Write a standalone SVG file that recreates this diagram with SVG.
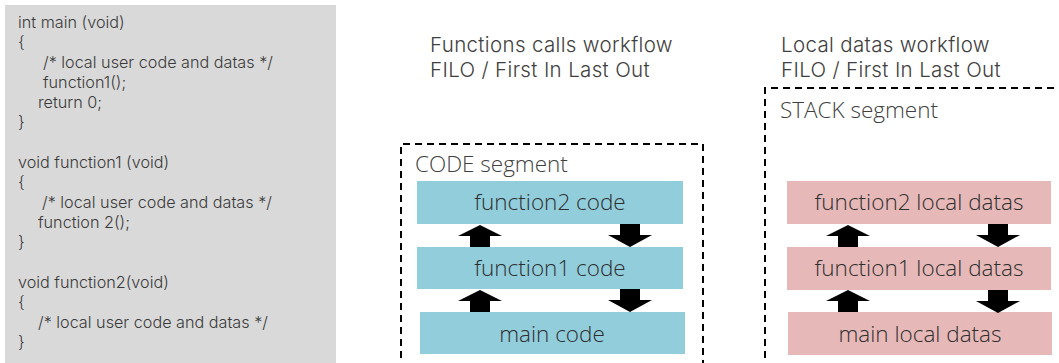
<svg xmlns="http://www.w3.org/2000/svg" width="1059" height="363" viewBox="0 0 1059 363">
<style>
.code{font-family:Inter,"Liberation Sans",sans-serif;font-size:16.2px;fill:#3a3a3a;font-weight:300}
.head{font-family:Inter,"Liberation Sans",sans-serif;font-size:20.5px;fill:#404040;font-weight:300;letter-spacing:0.35px}
.lbl{font-family:"Open Sans","Noto Sans",sans-serif;font-size:22.5px;fill:#2e2e2e;font-weight:300;text-anchor:middle}
.seg{font-family:"Open Sans","Noto Sans",sans-serif;font-size:22.5px;fill:#404040;font-weight:300}
.blue{fill:#92cddc}
.pink{fill:#e6b9b8}
.dash{fill:none;stroke:#000;stroke-width:2;stroke-dasharray:7 5}
.arr{fill:#000}
</style>
<defs>
<path id="up" d="M0,0 L22,11 L10,11 L10,22 L-10,22 L-10,11 L-22,11 Z"/>
<path id="down" d="M-10,0 L10,0 L10,11 L22,11 L0,23 L-22,11 L-10,11 Z"/>
</defs>
<g id="source-code">
<rect x="5" y="5" width="331" height="360" fill="#d9d9d9"/>
<text class="code" x="18" y="28">int main (void)</text>
<text class="code" x="18" y="48">{</text>
<text class="code" x="43" y="68">/* local user code and datas */</text>
<text class="code" x="43" y="88">function1();</text>
<text class="code" x="38" y="108">return 0;</text>
<text class="code" x="18" y="128">}</text>
<text class="code" x="18" y="168">void function1 (void)</text>
<text class="code" x="18" y="188">{</text>
<text class="code" x="42" y="208">/* local user code and datas */</text>
<text class="code" x="38" y="228">function 2();</text>
<text class="code" x="18" y="248">}</text>
<text class="code" x="18" y="288">void function2(void)</text>
<text class="code" x="18" y="308">{</text>
<text class="code" x="38" y="328">/* local user code and datas */</text>
<text class="code" x="18" y="348">}</text>
</g>
<g id="titles">
<text class="head" x="430" y="52">Functions calls workflow</text>
<text class="head" x="430" y="77">FILO / First In Last Out</text>
<text class="head" x="781" y="52">Local datas workflow</text>
<text class="head" x="781" y="77">FILO / First In Last Out</text>
</g>
<g id="code-segment">
<path class="dash" d="M401,370 V144 H703 V370"/>
<text class="seg" x="415" y="172">CODE segment</text>
</g>
<g id="stack-segment">
<path class="dash" d="M765,370 V88 H1065"/>
<text class="seg" x="780" y="118">STACK segment</text>
</g>
<g id="function2-code"><rect class="blue" x="417" y="181" width="266" height="43"/><text class="lbl" x="550" y="210">function2 code</text></g>
<g id="function1-code"><rect class="blue" x="417" y="247" width="266" height="42"/><text class="lbl" x="550" y="276">function1 code</text></g>
<g id="main-code"><rect class="blue" x="420" y="312" width="265" height="42"/><text class="lbl" x="552" y="342">main code</text></g>
<g id="function2-local"><rect class="pink" x="787" y="181" width="264" height="43"/><text class="lbl" x="919" y="210">function2 local datas</text></g>
<g id="function1-local"><rect class="pink" x="787" y="247" width="264" height="43"/><text class="lbl" x="919" y="276">function1 local datas</text></g>
<g id="main-local"><rect class="pink" x="788" y="312" width="264" height="43"/><text class="lbl" x="920" y="342">main local datas</text></g>
<g id="connectors" class="arr">
<use href="#up" x="480" y="225"/>
<use href="#down" x="630" y="224"/>
<use href="#up" x="480" y="290"/>
<use href="#down" x="630" y="289"/>
<use href="#up" x="848" y="225"/>
<use href="#down" x="998" y="224"/>
<use href="#up" x="848" y="290"/>
<use href="#down" x="998" y="290"/>
</g>
</svg>
